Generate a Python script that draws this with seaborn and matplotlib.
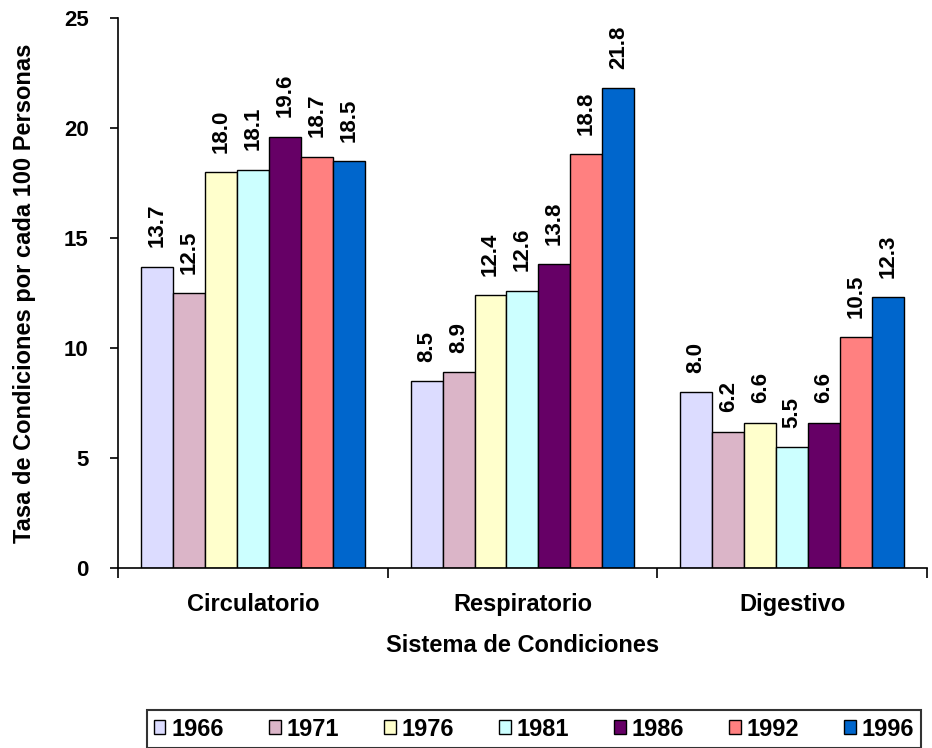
import numpy as np
import pandas as pd
import seaborn as sns
import matplotlib.pyplot as plt

# data
categories = ["Circulatorio", "Respiratorio", "Digestivo"]
years = ["1966", "1971", "1976", "1981", "1986", "1992", "1996"]
circulatorio = [13.7, 12.5, 18.0, 18.1, 19.6, 18.7, 18.5]
respiratorio = [8.5, 8.9, 12.4, 12.6, 13.8, 18.8, 21.8]
digestivo = [8.0, 6.2, 6.6, 5.5, 6.6, 10.5, 12.3]
colors = ["#DCDCFF", "#DBB5C8", "#FFFFCC", "#CCFFFF", "#660066", "#FF8080", "#0066CC"]

rows = []
for cat, vals in zip(categories, [circulatorio, respiratorio, digestivo]):
    for yr, v in zip(years, vals):
        rows.append({"Sistema": cat, "Año": yr, "Tasa": v})
df = pd.DataFrame(rows)

sns.set_style("white")
plt.rcParams["font.family"] = ["Liberation Sans", "DejaVu Sans"]
plt.rcParams["font.weight"] = "bold"
plt.rcParams["text.color"] = "black"
plt.rcParams["axes.labelcolor"] = "black"
plt.rcParams["xtick.color"] = "black"
plt.rcParams["ytick.color"] = "black"

fig = plt.figure(figsize=(9.32, 7.48), dpi=100)
ax = fig.add_axes([0.1266, 0.2406, 0.8680, 0.7354])

sns.barplot(data=df, x="Sistema", y="Tasa", hue="Año", hue_order=years,
            order=categories, palette=colors, width=0.83, edgecolor="black",
            linewidth=1.0, saturation=1, ax=ax, legend=True)

for cont in ax.containers:
    ax.bar_label(cont, fmt="%.1f", rotation=90, padding=14,
                 fontsize=16, fontweight="bold")

ax.set_ylim(0, 25)
ax.set_yticks(np.arange(0, 26, 5))
ax.set_xlim(-0.5, 2.5)
ax.set_xticks(np.arange(-0.5, 3, 1), minor=True)
ax.tick_params(axis="x", which="major", length=0, pad=18, labelsize=17)
ax.tick_params(axis="x", which="minor", length=7, width=1.2, direction="out",
               bottom=True)
ax.tick_params(axis="y", length=6, width=1.2, direction="out", left=True,
               pad=15, labelsize=16)
for lab in ax.get_xticklabels() + ax.get_yticklabels():
    lab.set_fontweight("bold")

for s in ["top", "right"]:
    ax.spines[s].set_visible(False)
for s in ["left", "bottom"]:
    ax.spines[s].set_color("black")
    ax.spines[s].set_linewidth(1.2)

ax.set_xlabel("Sistema de Condiciones", fontsize=17, fontweight="bold", labelpad=13)
ax.set_ylabel("Tasa de Condiciones por cada 100 Personas", fontsize=17,
              fontweight="bold", labelpad=20)

handles, labels = ax.get_legend_handles_labels()
ax.get_legend().remove()
leg = fig.legend(handles, labels, loc="center", bbox_to_anchor=(0.573, 0.0254),
                 ncol=7, frameon=True, fancybox=False, fontsize=17,
                 handlelength=0.5, handleheight=0.5, handletextpad=0.25,
                 columnspacing=1.9, borderpad=0.3)
leg.get_frame().set_edgecolor("black")
leg.get_frame().set_linewidth(1.5)
for t in leg.get_texts():
    t.set_fontweight("bold")

fig.savefig("out.png", dpi=100)
